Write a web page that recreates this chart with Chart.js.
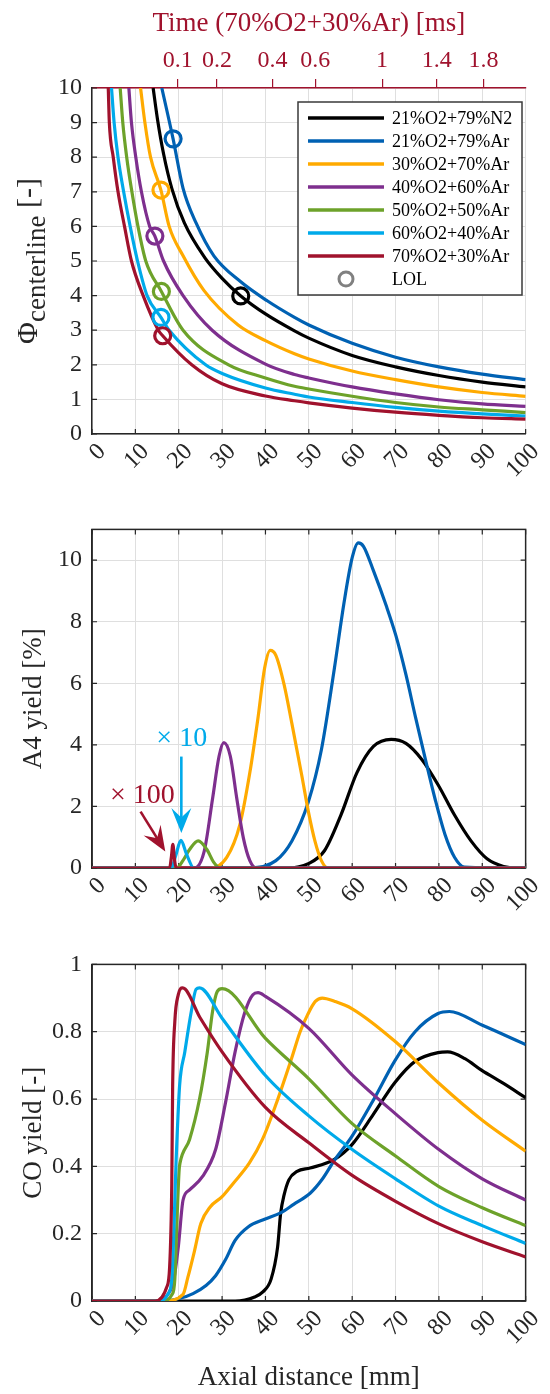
<!DOCTYPE html>
<html>
<head>
<meta charset="utf-8">
<script src="https://cdn.jsdelivr.net/npm/chart.js@4.4.1/dist/chart.umd.min.js"></script>
<style>
  html, body { margin: 0; padding: 0; background: #fff; }
  #wrap { position: relative; width: 550px; height: 1394px; }
  canvas { position: absolute; left: 0; }
</style>
</head>
<body>
<div id="wrap">
  <canvas id="phi" width="550" height="505" style="top:0"></canvas>
  <canvas id="a4" width="550" height="435" style="top:505px"></canvas>
  <canvas id="co" width="550" height="454" style="top:940px"></canvas>
</div>
<script>
'use strict';

const INK = '#262626';
const GRID = '#dfdfdf';
const FONT = '"Liberation Serif", "Times New Roman", serif';

const SERIES = ['21%O2+79%N2', '21%O2+79%Ar', '30%O2+70%Ar', '40%O2+60%Ar', '50%O2+50%Ar', '60%O2+40%Ar', '70%O2+30%Ar'];
const COLORS = ['#000000', '#0061B3', '#FFAA00', '#7E2F8E', '#6DA22A', '#00AAEA', '#A0122D'];

// top axis: residence time of 70%O2+30%Ar, ticks sit at these axial distances [mm]
const TIME_TICK_MM = [19.8, 28.8, 41.6, 51.5, 66.9, 79.5, 90.3];
const TIME_TICK_LABELS = ['0.1', '0.2', '0.4', '0.6', '1', '1.4', '1.8'];

// panel 1: Phi centerline vs axial distance (one row per mixture)
const PHI_X = [
  [14.1, 15.1, 16.5, 18.4, 21.3, 26.0, 30, 34.3, 40, 46.7, 50, 60, 70, 80, 90, 100],
  [16.1, 18.7, 21.0, 24.0, 28.1, 34.3, 40.4, 46.7, 50, 60, 70, 80, 90, 100],
  [11.2, 12.2, 13.5, 15.9, 17.8, 21.0, 25.8, 33.7, 40, 46.7, 50, 60, 70, 80, 90, 100],
  [8.5, 9.1, 10.1, 11.4, 13.3, 14.5, 16.5, 21.0, 27.7, 40, 46.7, 50, 60, 70, 80, 90, 100],
  [6.5, 7.1, 8.0, 9.2, 10.6, 12.4, 16.0, 21.0, 31.5, 40, 46.7, 50, 60, 70, 80, 90, 100],
  [4.5, 5.1, 6.0, 7.3, 8.8, 10.5, 12.7, 15.9, 17.8, 26.2, 30, 40, 46.7, 50, 60, 70, 80, 90, 100],
  [3.75, 4.0, 4.9, 6.0, 7.5, 9.1, 11.8, 15.3, 16.3, 23.0, 30, 40, 46.7, 50, 60, 70, 80, 90, 100]
];
const PHI_Y = [
  [10, 9.1, 8.1, 7.1, 6.1, 5.1, 4.5, 3.99, 3.47, 2.98, 2.77, 2.27, 1.94, 1.69, 1.50, 1.36],
  [10, 8.53, 7.1, 6.1, 5.15, 4.4, 3.85, 3.37, 3.15, 2.62, 2.22, 1.94, 1.73, 1.57],
  [10, 9, 8, 7.05, 6, 5.15, 4.15, 3.15, 2.7, 2.32, 2.17, 1.82, 1.57, 1.36, 1.20, 1.09],
  [10, 9, 8, 7, 6, 5.72, 5, 4, 3, 2.02, 1.72, 1.62, 1.36, 1.16, 0.99, 0.87, 0.80],
  [10, 9, 8, 7, 6, 5, 4.12, 3, 2, 1.62, 1.38, 1.30, 1.09, 0.91, 0.78, 0.70, 0.62],
  [10, 9, 8, 7, 6, 5, 4, 3.37, 3, 2, 1.75, 1.33, 1.15, 1.07, 0.91, 0.77, 0.66, 0.58, 0.52],
  [10, 9, 8, 7, 6, 5, 4, 3, 2.84, 2, 1.45, 1.10, 0.96, 0.90, 0.75, 0.63, 0.54, 0.47, 0.43]
];
// lean operating limit markers, same order as SERIES
const LOL_X = [34.3, 18.7, 15.9, 14.5, 16.0, 15.9, 16.3];
const LOL_Y = [3.99, 8.53, 7.05, 5.72, 4.12, 3.37, 2.84];

// panel 2: A4 yield [%] (cyan x10, red x100)
const A4_X = [
  [0, 45, 49.9, 53.6, 57.4, 61.1, 64.9, 69.0, 72.4, 76.1, 79.9, 83.6, 87.4, 91.1, 94.9, 98, 100],
  [0, 36.4, 42.4, 46.1, 49.9, 52.9, 55.9, 58.1, 60, 61.4, 62.6, 64.9, 67.9, 70.1, 72.4, 74.6, 76.9, 79.1, 81.4, 83.6, 85.9, 100],
  [0, 27.4, 31.1, 34.1, 36.4, 38.3, 39.8, 41.1, 42.4, 44.3, 46.1, 48.4, 49.9, 51.4, 52.9, 54.4, 100],
  [0, 23.6, 25.9, 27.8, 29.3, 30.4, 31.9, 33.4, 34.9, 36.4, 37.9, 100],
  [0, 19.5, 21, 22.5, 24.5, 26.5, 28, 29.5, 100],
  [0, 18.3, 19.3, 20.5, 21.8, 23.5, 100],
  [0, 17.9, 18.3, 18.65, 19.0, 19.4, 100]
];
const A4_Y = [
  [0, 0, 0.14, 0.56, 1.72, 3.1, 3.95, 4.18, 4.05, 3.52, 2.68, 1.72, 0.88, 0.30, 0.05, 0, 0],
  [0, 0, 0.24, 0.88, 2.15, 3.84, 6.49, 8.6, 10.08, 10.56, 10.45, 9.66, 8.5, 7.54, 6.28, 4.9, 3.52, 2.25, 1.09, 0.35, 0.03, 0],
  [0, 0, 0.35, 1.41, 3.1, 4.9, 6.49, 7.07, 6.91, 5.96, 4.69, 2.99, 1.83, 0.88, 0.24, 0, 0],
  [0, 0, 0.56, 2.25, 3.63, 4.07, 3.63, 2.25, 0.98, 0.24, 0, 0],
  [0, 0, 0.25, 0.6, 0.88, 0.6, 0.2, 0, 0],
  [0, 0, 0.4, 0.9, 0.45, 0, 0],
  [0, 0, 0.35, 0.77, 0.3, 0, 0]
];

// panel 3: CO yield [-]
const CO_X = [
  [0, 33, 37.5, 39.4, 41.3, 42.8, 43.5, 44.3, 45.4, 47.3, 50.3, 55.8, 59.9, 64.8, 69.9, 74.5, 79.8, 82.0, 86, 89.9, 94.8, 100],
  [0, 16.5, 20.3, 23.3, 26.3, 28.5, 30.8, 33.0, 36.0, 39.8, 43.5, 46.5, 50.3, 53, 55.8, 59.9, 64.8, 69.9, 74.5, 79.8, 82.4, 89.9, 100],
  [0, 16.5, 21.0, 22.1, 23.6, 25.1, 27.3, 30, 32.6, 36.3, 39.3, 42.3, 46.0, 48.0, 49.7, 51.5, 53.1, 56, 60, 70, 80, 90, 100],
  [0, 15, 17.5, 18.8, 19.9, 21.0, 22.5, 25.5, 28.5, 30.8, 33.0, 35.3, 37.1, 38.3, 40, 50, 60, 70, 80, 90, 100],
  [0, 16, 18.5, 19.1, 19.65, 20.1, 20.3, 22.5, 24.8, 26.6, 27.8, 28.9, 30, 40, 50, 60, 70, 80, 90, 100],
  [0, 15.8, 17.5, 18.4, 19.5, 20.2, 21.4, 22.9, 24.0, 24.8, 30, 40, 50, 60, 70, 80, 90, 100],
  [0, 14.6, 17.2, 17.9, 18.4, 18.6, 19.1, 19.9, 20.9, 25, 30, 40, 50, 60, 70, 80, 90, 100]
];
const CO_Y = [
  [0, 0, 0.012, 0.027, 0.065, 0.16, 0.26, 0.315, 0.36, 0.385, 0.395, 0.42, 0.464, 0.553, 0.65, 0.712, 0.738, 0.74, 0.72, 0.685, 0.647, 0.604],
  [0, 0, 0.008, 0.022, 0.046, 0.075, 0.123, 0.18, 0.22, 0.243, 0.262, 0.287, 0.32, 0.36, 0.416, 0.488, 0.595, 0.715, 0.80, 0.854, 0.86, 0.82, 0.762],
  [0, 0, 0.02, 0.07, 0.147, 0.23, 0.28, 0.31, 0.35, 0.41, 0.48, 0.58, 0.72, 0.80, 0.85, 0.89, 0.90, 0.89, 0.868, 0.77, 0.647, 0.537, 0.445],
  [0, 0, 0.02, 0.06, 0.16, 0.30, 0.33, 0.37, 0.45, 0.59, 0.74, 0.86, 0.91, 0.916, 0.905, 0.81, 0.671, 0.556, 0.45, 0.363, 0.30],
  [0, 0, 0.02, 0.065, 0.26, 0.39, 0.41, 0.48, 0.60, 0.74, 0.86, 0.92, 0.928, 0.78, 0.66, 0.527, 0.431, 0.34, 0.277, 0.224],
  [0, 0, 0.02, 0.065, 0.45, 0.64, 0.74, 0.86, 0.926, 0.93, 0.84, 0.67, 0.55, 0.45, 0.363, 0.282, 0.224, 0.171],
  [0, 0, 0.04, 0.1, 0.35, 0.64, 0.83, 0.91, 0.93, 0.84, 0.74, 0.575, 0.47, 0.373, 0.296, 0.229, 0.176, 0.131]
];

Chart.defaults.font.family = FONT;
Chart.defaults.color = INK;
Chart.defaults.animation = false;

function points(xs, ys) {
  return xs.map((x, i) => ({ x, y: ys[i] }));
}

function curves(X, Y) {
  return SERIES.map((name, i) => ({
    label: name,
    data: points(X[i], Y[i]),
    borderColor: COLORS[i],
    borderWidth: 3.2,
    pointRadius: 0,
    cubicInterpolationMode: 'monotone',
    fill: false,
    order: SERIES.length - i,   // red drawn last, on top
  }));
}

function bottomAxis(height, title) {
  return {
    type: 'linear', position: 'bottom', min: 0, max: 100,
    ticks: { stepSize: 10, minRotation: 45, maxRotation: 45, autoSkip: false, color: INK, font: { size: 24 }, padding: 4, labelOffset: 10 },
    grid: { color: GRID, drawTicks: false },
    border: { display: true, color: INK, width: 1.5 },
    title: title ? { display: true, text: title, color: INK, font: { size: 27 }, padding: { top: 0, bottom: 0 } } : { display: false },
    afterFit: s => { s.height = height; },
  };
}

function leftAxis(max, step, title) {
  return {
    type: 'linear', position: 'left', min: 0, max,
    ticks: {
      stepSize: step, includeBounds: false, color: INK, font: { size: 24 }, padding: 10,
      callback: v => String(parseFloat(v.toFixed(2))),
    },
    grid: { color: GRID, drawTicks: false },
    border: { display: true, color: INK, width: 1.5 },
    title: title ? { display: true, text: title, color: INK, font: { size: 27 }, padding: { top: 18, bottom: 0 } } : { display: false },
    afterFit: s => { s.width = 92; },
  };
}

// box + inward ticks, drawn under the data like MATLAB's default layer
const frame = {
  id: 'frame',
  beforeDatasetsDraw(chart, args, opts) {
    const { ctx, chartArea: a } = chart;
    const xs = chart.scales.x, ys = chart.scales.y;
    const L = 5;
    ctx.save();
    ctx.strokeStyle = INK;
    ctx.lineWidth = 1.2;
    ctx.beginPath();
    xs.ticks.forEach(t => {
      const p = xs.getPixelForValue(t.value);
      ctx.moveTo(p, a.bottom); ctx.lineTo(p, a.bottom - L);
      if (opts.box) { ctx.moveTo(p, a.top); ctx.lineTo(p, a.top + L); }
    });
    ys.ticks.forEach(t => {
      const p = ys.getPixelForValue(t.value);
      ctx.moveTo(a.left, p); ctx.lineTo(a.left + L, p);
      if (opts.box) { ctx.moveTo(a.right, p); ctx.lineTo(a.right - L, p); }
    });
    ctx.stroke();
    if (opts.box) {
      ctx.lineWidth = 1.5;
      ctx.strokeRect(a.left, a.top, a.right - a.left, a.bottom - a.top);
    }
    ctx.restore();
  }
};

// y title with subscript: Phi_centerline [-]
const phiTitle = {
  id: 'phiTitle',
  afterDraw(chart) {
    const { ctx, chartArea: a } = chart;
    const big = '30px ' + FONT, small = '27px ' + FONT;
    ctx.save();
    ctx.translate(a.left - 55, (a.top + a.bottom) / 2);
    ctx.rotate(-Math.PI / 2);
    ctx.fillStyle = INK;
    ctx.textBaseline = 'alphabetic';
    ctx.font = big;
    const w1 = ctx.measureText('Φ').width, w3 = ctx.measureText(' [-]').width;
    ctx.font = small;
    const w2 = ctx.measureText('centerline').width;
    let u = -(w1 + w2 + w3) / 2;
    ctx.font = big; ctx.fillText('Φ', u, 0); u += w1;
    ctx.font = small; ctx.fillText('centerline', u, 8); u += w2;
    ctx.font = big; ctx.fillText(' [-]', u, 0);
    ctx.restore();
  }
};

// boxed legend in the upper right of panel 1
const boxLegend = {
  id: 'boxLegend',
  afterDraw(chart) {
    const { ctx, chartArea: a } = chart;
    const left = a.left + 206, top = a.top + 14, w = 224, h = 193, row = 23;
    ctx.save();
    ctx.fillStyle = '#fff';
    ctx.fillRect(left, top, w, h);
    ctx.strokeStyle = '#3a3a3a';
    ctx.lineWidth = 1.5;
    ctx.strokeRect(left, top, w, h);
    ctx.font = '18px ' + FONT;
    ctx.textBaseline = 'middle';
    const labels = SERIES.concat(['LOL']);
    labels.forEach((name, i) => {
      const cy = top + 16 + row * i;
      if (i < SERIES.length) {
        ctx.strokeStyle = COLORS[i];
        ctx.lineWidth = 3.4;
        ctx.beginPath(); ctx.moveTo(left + 10, cy); ctx.lineTo(left + 86, cy); ctx.stroke();
      } else {
        ctx.strokeStyle = '#808080';
        ctx.lineWidth = 3;
        ctx.beginPath(); ctx.arc(left + 48, cy, 7, 0, Math.PI * 2); ctx.stroke();
      }
      ctx.fillStyle = '#000';
      ctx.fillText(name, left + 94, cy + 1);
    });
    ctx.restore();
  }
};

// "x10" / "x100" call-outs on panel 2, anchored in data units
const CALLOUTS = [
  { text: '× 10',  color: COLORS[5], tx: 20.7, ty: 4.2,  from: [20.6, 3.62], to: [20.6, 1.14] },
  { text: '× 100', color: COLORS[6], tx: 11.6, ty: 2.34, from: [11.2, 1.83], to: [16.9, 0.54] }
];

const callouts = {
  id: 'callouts',
  afterDatasetsDraw(chart) {
    const { ctx } = chart;
    const xs = chart.scales.x, ys = chart.scales.y;
    ctx.save();
    CALLOUTS.forEach(c => {
      ctx.fillStyle = c.color;
      ctx.strokeStyle = c.color;
      ctx.font = '28px ' + FONT;
      ctx.textAlign = 'center';
      ctx.textBaseline = 'middle';
      ctx.fillText(c.text, xs.getPixelForValue(c.tx), ys.getPixelForValue(c.ty));
      const x0 = xs.getPixelForValue(c.from[0]), y0 = ys.getPixelForValue(c.from[1]);
      const x1 = xs.getPixelForValue(c.to[0]), y1 = ys.getPixelForValue(c.to[1]);
      const len = Math.hypot(x1 - x0, y1 - y0);
      const dx = (x1 - x0) / len, dy = (y1 - y0) / len;
      const L = 25, W = 10;
      ctx.lineWidth = 2.6;
      ctx.beginPath(); ctx.moveTo(x0, y0); ctx.lineTo(x1 - dx * L * 0.6, y1 - dy * L * 0.6); ctx.stroke();
      ctx.beginPath();
      ctx.moveTo(x1, y1);
      ctx.lineTo(x1 - dx * L - dy * W, y1 - dy * L + dx * W);
      ctx.lineTo(x1 - dx * L * 0.62, y1 - dy * L * 0.62);
      ctx.lineTo(x1 - dx * L + dy * W, y1 - dy * L - dx * W);
      ctx.closePath();
      ctx.fill();
    });
    ctx.restore();
  }
};

function renderPhi() {
  const datasets = curves(PHI_X, PHI_Y);
  datasets.push({
    label: 'LOL',
    data: points(LOL_X, LOL_Y),
    showLine: false,
    pointRadius: 8,
    pointBorderWidth: 3.2,
    pointBorderColor: COLORS,
    pointBackgroundColor: 'rgba(0,0,0,0)',
    order: 0,
  });
  new Chart(document.getElementById('phi'), {
    type: 'line',
    data: { datasets },
    options: {
      responsive: false,
      devicePixelRatio: 1,
      layout: { padding: { left: 0, right: 13, top: 0, bottom: 0 } },
      plugins: { legend: { display: false }, tooltip: { enabled: false }, frame: { box: false } },
      scales: {
        x: bottomAxis(71, null),
        xTime: {
          type: 'linear', position: 'top', min: 0, max: 100,
          afterBuildTicks: s => { s.ticks = TIME_TICK_MM.map(v => ({ value: v })); },
          ticks: {
            autoSkip: false, minRotation: 0, maxRotation: 0, color: '#A0122D', font: { size: 24 }, padding: 4,
            callback: (v, i) => TIME_TICK_LABELS[i],
          },
          grid: { drawOnChartArea: false, drawTicks: true, tickLength: 9, color: '#A0122D', lineWidth: 1.2 },
          border: { display: true, color: '#A0122D', width: 1.5 },
          title: { display: true, text: 'Time (70%O2+30%Ar) [ms]', color: '#A0122D', font: { size: 27 }, padding: { top: 8, bottom: 0 } },
          afterFit: s => { s.height = 88; },
        },
        y: leftAxis(10, 1, null),
      },
    },
    plugins: [frame, phiTitle, boxLegend],
  });
}

function renderA4() {
  new Chart(document.getElementById('a4'), {
    type: 'line',
    data: { datasets: curves(A4_X, A4_Y) },
    options: {
      responsive: false,
      devicePixelRatio: 1,
      layout: { padding: { left: 0, right: 13, top: 17, bottom: 0 } },
      plugins: { legend: { display: false }, tooltip: { enabled: false }, frame: { box: true } },
      scales: {
        x: bottomAxis(72, null),
        y: leftAxis(11, 2, 'A4 yield [%]'),
      },
    },
    plugins: [frame, callouts],
  });
}

function renderCO() {
  new Chart(document.getElementById('co'), {
    type: 'line',
    data: { datasets: curves(CO_X, CO_Y) },
    options: {
      responsive: false,
      devicePixelRatio: 1,
      layout: { padding: { left: 0, right: 13, top: 14, bottom: 0 } },
      plugins: { legend: { display: false }, tooltip: { enabled: false }, frame: { box: true } },
      scales: {
        x: bottomAxis(93, 'Axial distance [mm]'),
        y: leftAxis(1, 0.2, 'CO yield [-]'),
      },
    },
    plugins: [frame],
  });
}

renderPhi();
renderA4();
renderCO();
</script>
</body>
</html>
